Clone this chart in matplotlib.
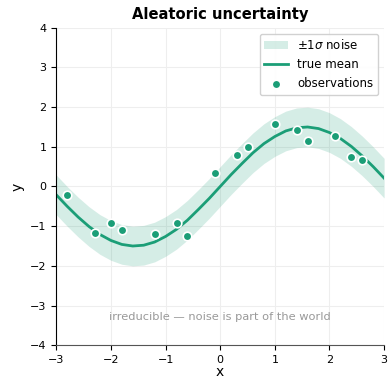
import matplotlib.pyplot as plt

# true mean curve, sampled every 0.2
xs = [-3.0, -2.8, -2.6, -2.4, -2.2, -2.0, -1.8, -1.6, -1.4, -1.2, -1.0,
      -0.8, -0.6, -0.4, -0.2, 0.0, 0.2, 0.4, 0.6, 0.8, 1.0,
      1.2, 1.4, 1.6, 1.8, 2.0, 2.2, 2.4, 2.6, 2.8, 3.0]
mean = [-0.21, -0.50, -0.77, -1.01, -1.21, -1.36, -1.46, -1.50, -1.48, -1.40, -1.26,
        -1.08, -0.85, -0.58, -0.30, 0.00, 0.30, 0.58, 0.85, 1.08, 1.26,
        1.40, 1.48, 1.50, 1.46, 1.36, 1.21, 1.01, 0.77, 0.50, 0.21]
sigma = 0.5

# noisy observations
obs_x = [-2.80, -2.29, -1.99, -1.79, -1.20, -0.79, -0.60,
         -0.09, 0.31, 0.51, 1.01, 1.40, 1.60, 2.10, 2.40, 2.60]
obs_y = [-0.22, -1.17, -0.93, -1.09, -1.19, -0.93, -1.24,
         0.34, 0.79, 1.00, 1.57, 1.43, 1.14, 1.27, 0.75, 0.66]

green = '#1b9e77'

fig, ax = plt.subplots(figsize=(3.88, 3.81), dpi=100)

lo = [m - sigma for m in mean]
hi = [m + sigma for m in mean]
ax.fill_between(xs, lo, hi, color=green, alpha=0.18, linewidth=0, label=r'$\pm1\sigma$ noise')
ax.plot(xs, mean, color=green, lw=2, label='true mean')
ax.scatter(obs_x, obs_y, s=38, color=green, edgecolor='white', linewidth=1.2,
           zorder=3, label='observations')

ax.text(0, -3.3, 'irreducible \u2014 noise is part of the world',
        ha='center', va='center', fontsize=8.2, color='#999999')

ax.set_xlim(-3, 3)
ax.set_ylim(-4, 4)
ax.set_xlabel('x', labelpad=0)
ax.set_ylabel('y')
ax.set_title('Aleatoric uncertainty', fontweight='bold', fontsize=10.6)
ax.grid(True, color='#eeeeee', linewidth=0.8)
ax.set_axisbelow(True)
ax.spines['top'].set_visible(False)
ax.spines['right'].set_visible(False)
ax.spines['bottom'].set_color('#555555')
ax.tick_params(labelsize=8)
ax.legend(loc='upper right', fontsize=8.5, framealpha=0.9)

fig.subplots_adjust(left=0.145, right=0.99, top=0.927, bottom=0.094)
fig.savefig('out.png', dpi=100)
